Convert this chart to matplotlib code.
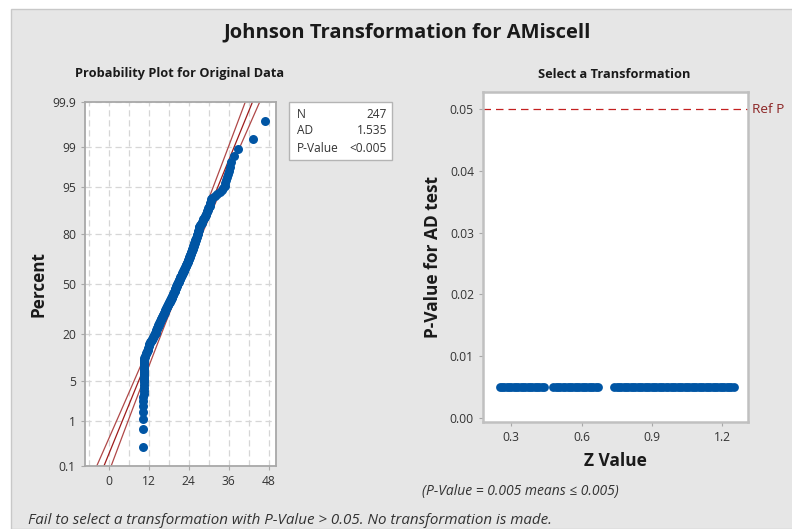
import statistics

import numpy as np
import matplotlib
matplotlib.use("Agg")
import matplotlib.pyplot as plt
from matplotlib.patches import Rectangle
from matplotlib.ticker import FixedLocator, FormatStrFormatter

plt.rcParams['font.family'] = ['Open Sans', 'DejaVu Sans']

# Original data (sorted)
amiscell = [
    10.3, 10.4,
    10.4, 10.4, 10.4, 10.4, 10.4, 10.5, 10.5, 10.5, 10.5, 10.5,
    10.5, 10.5, 10.5, 10.5, 10.5, 10.5, 10.6, 10.6, 10.6, 10.6, 10.6, 10.6, 10.6,
    10.7, 10.8, 10.9, 11.1, 11.2, 11.4, 11.6,
    11.7, 11.8, 11.9, 12.0, 12.1, 12.2, 12.4, 12.5, 12.6, 12.8,
    12.9, 13.1, 13.2, 13.4, 13.5, 13.7, 13.8, 14.0,
    14.1, 14.1, 14.2, 14.3, 14.4, 14.5, 14.6, 14.7, 14.8, 14.9, 15.0, 15.1, 15.2,
    15.3, 15.4, 15.5, 15.6, 15.7, 15.8, 15.9, 16.0, 16.1, 16.2, 16.3, 16.4, 16.5,
    16.6, 16.7, 16.8, 16.85, 16.9, 17.0,
    17.1, 17.2, 17.3, 17.4, 17.5, 17.6, 17.7, 17.8, 17.9, 18.0, 18.1, 18.2, 18.3,
    18.4, 18.5, 18.6, 18.7,
    18.8, 18.9, 19.0, 19.0, 19.1, 19.2, 19.3, 19.4, 19.4, 19.5,
    19.6, 19.7, 19.8, 19.8, 19.9, 20.0, 20.0, 20.1, 20.2, 20.3, 20.3, 20.4, 20.5,
    20.5, 20.6,
    20.7, 20.8, 20.9, 21.0, 21.0, 21.1, 21.2, 21.3, 21.4, 21.4, 21.5, 21.6,
    21.7, 21.8, 21.9, 22.0, 22.0, 22.1, 22.2, 22.3, 22.4, 22.5, 22.6, 22.7, 22.7,
    22.8, 22.9, 23.0, 23.1, 23.2, 23.3, 23.3, 23.4, 23.5, 23.6, 23.7, 23.7, 23.8,
    23.9, 24.0,
    24.1, 24.2, 24.2, 24.3, 24.4, 24.5, 24.5, 24.6, 24.7, 24.8, 24.8, 24.9, 25.0,
    25.1, 25.1, 25.2, 25.3, 25.4, 25.4, 25.5, 25.6, 25.7, 25.7, 25.8,
    25.9, 26.0, 26.0, 26.1, 26.2, 26.3, 26.4, 26.4, 26.5, 26.6, 26.7, 26.7, 26.8,
    26.9, 27.0, 27.0, 27.1, 27.2, 27.2, 27.3,
    27.5, 27.7, 27.9, 28.0, 28.2, 28.4, 28.6, 28.8, 29.0, 29.1, 29.3, 29.5,
    29.6, 29.8, 29.9, 30.1, 30.3,
    30.4, 30.5, 30.7, 30.8, 31.0,
    31.8, 32.6, 33.3, 34.0,
    34.4, 34.8, 35.0, 35.3, 35.5,
    35.8, 36.1, 36.5, 36.8,
    37.6, 38.7, 43.4, 46.9,
]

# Z values tried by the Johnson search, with the AD p-value of each
z_values = [
    0.25, 0.26, 0.27, 0.28, 0.29, 0.30, 0.31, 0.32, 0.33, 0.34,
    0.35, 0.36, 0.37, 0.38, 0.39, 0.40, 0.41, 0.42, 0.43, 0.44,
    0.48, 0.49, 0.50, 0.51, 0.52, 0.53, 0.54, 0.55, 0.56, 0.57,
    0.58, 0.59, 0.60, 0.61, 0.62, 0.63, 0.64, 0.65, 0.66, 0.67,
    0.74, 0.75, 0.76, 0.77, 0.78, 0.79, 0.80, 0.81, 0.82, 0.83,
    0.84, 0.85, 0.86, 0.87, 0.88, 0.89, 0.90, 0.91, 0.92, 0.93,
    0.94, 0.95, 0.96, 0.97, 0.98, 0.99, 1.00, 1.01, 1.02, 1.03,
    1.04, 1.05, 1.06, 1.07, 1.08, 1.09, 1.10, 1.11, 1.12, 1.13,
    1.14, 1.15, 1.16, 1.17, 1.18, 1.19, 1.20, 1.21, 1.22, 1.23,
    1.24, 1.25,
]
z_pvalues = [0.005] * len(z_values)  # every z gave P <= 0.005

stat_labels = ["N", "AD", "P-Value"]
stat_values = ["247", "1.535", "<0.005"]

pct_ticks = [0.1, 1, 5, 20, 50, 80, 95, 99, 99.9]
pct_labels = ["0.1", "1", "5", "20", "50", "80", "95", "99", "99.9"]
ref_p = 0.05

W, H = 792, 529
BLUE = "#0055A4"
RED = "#9E1B1B"
TEXT = "#1a1a1a"
TICK = "#333333"
SPINE = "#a8a8a8"


def fx(px):
    return px / W


def fy(py):
    return 1 - py / H


nd = statistics.NormalDist()
_inv = np.vectorize(nd.inv_cdf, otypes=[float])
_cdf = np.vectorize(nd.cdf, otypes=[float])


def pct_to_z(p):
    p = np.clip(np.asarray(p, dtype=float) / 100.0, 1e-9, 1 - 1e-9)
    return _inv(p)


def z_to_pct(z):
    return _cdf(np.asarray(z, dtype=float)) * 100.0


def style_axes(ax):
    for s in ax.spines.values():
        s.set_color(SPINE)
        s.set_linewidth(1.3)
    ax.tick_params(colors=SPINE, labelcolor=TICK, labelsize=8.7, length=3, width=0.8)


fig = plt.figure(figsize=(W / 100, H / 100), dpi=100, facecolor="white")
fig.patches.append(Rectangle((fx(11), 0), 1, fy(9), transform=fig.transFigure,
                             facecolor="#e6e6e6", edgecolor="#c8c8c8", lw=1, zorder=-10))

fig.text(fx(407), fy(32), "Johnson Transformation for AMiscell", ha="center", va="center",
         fontsize=14.5, fontweight="bold", color=TEXT)

# ---- Probability plot ----
ax1 = fig.add_axes([fx(85), fy(466), fx(276) - fx(85), fy(102) - fy(466)])
ax1.set_facecolor("white")
ax1.set_yscale("function", functions=(pct_to_z, z_to_pct))

data = np.array(amiscell)
n = len(data)
ranks = np.arange(1, n + 1)
pos = (ranks - 0.3) / (n + 0.4) * 100

mu = data.mean()
sd = data.std(ddof=1)
zz = np.linspace(-3.4, 3.4, 120)
fit = mu + zz * sd
half = 1.96 * sd / np.sqrt(n) * np.sqrt(1 + zz ** 2 / 2)
zp = z_to_pct(zz)
ax1.plot(fit, zp, color=RED, lw=0.9, zorder=2)
ax1.plot(fit - half, zp, color="#b04848", lw=0.9, zorder=2)
ax1.plot(fit + half, zp, color="#b04848", lw=0.9, zorder=2)

ax1.scatter(data, pos, s=42, color=BLUE, linewidths=0, zorder=3)

ax1.set_xlim(-7.1, 50.2)
ax1.set_ylim(0.1, 99.9)
ax1.set_xticks([0, 12, 24, 36, 48])
ax1.xaxis.set_minor_locator(FixedLocator([-6, 6, 18, 30, 42]))
ax1.tick_params(axis="x", which="minor", length=0)
ax1.yaxis.set_major_locator(FixedLocator(pct_ticks))
ax1.set_yticklabels(pct_labels)
ax1.yaxis.set_minor_locator(FixedLocator([]))
ax1.grid(True, which="both", color="#d6d6d6", ls=(0, (5, 3)), lw=0.9)
ax1.set_axisbelow(True)
style_axes(ax1)
ax1.set_ylabel("Percent", fontsize=12.3, fontweight="bold", color=TEXT)
ax1.yaxis.set_label_coords(-0.194, 0.5)

fig.text(fx(180), fy(74), "Probability Plot for Original Data", ha="center", va="center",
         fontsize=9.2, fontweight="bold", color=TEXT)

# stats box
fig.patches.append(Rectangle((fx(289), fy(160)), fx(392) - fx(289), fy(102) - fy(160),
                             transform=fig.transFigure, facecolor="white",
                             edgecolor="#b4b4b4", lw=1))
for i, (lab, val) in enumerate(zip(stat_labels, stat_values)):
    y = fy(114 + i * 17)
    fig.text(fx(297), y, lab, ha="left", va="center", fontsize=8.6, color=TICK)
    fig.text(fx(387), y, val, ha="right", va="center", fontsize=8.6, color=TICK)

# ---- Select a Transformation ----
ax2 = fig.add_axes([fx(483), fy(422), fx(748) - fx(483), fy(92) - fy(422)])
ax2.set_facecolor("white")
ax2.scatter(z_values, z_pvalues, s=40, color=BLUE, linewidths=0, zorder=3)
ax2.axhline(ref_p, color="#c42020", ls=(0, (6, 4)), lw=0.9, zorder=2)
ax2.text(1.015, ref_p, "Ref P", transform=ax2.get_yaxis_transform(), ha="left", va="center",
         fontsize=9.7, color="#8b2323")
ax2.set_xlim(0.179, 1.311)
ax2.set_ylim(-0.0007, 0.0528)
ax2.set_xticks([0.3, 0.6, 0.9, 1.2])
ax2.set_yticks([0.0, 0.01, 0.02, 0.03, 0.04, 0.05])
ax2.yaxis.set_major_formatter(FormatStrFormatter("%.2f"))
ax2.xaxis.set_major_formatter(FormatStrFormatter("%.1f"))
style_axes(ax2)
for s in ax2.spines.values():
    s.set_color("#c0c0c0")
    s.set_linewidth(1.8)
ax2.set_ylabel("P-Value for AD test", fontsize=12.5, fontweight="bold", color=TEXT)
ax2.yaxis.set_label_coords(-0.155, 0.5)
ax2.set_xlabel("Z Value", fontsize=12.5, fontweight="bold", color=TEXT)
ax2.xaxis.set_label_coords(0.498, -0.092)

fig.text(fx(614), fy(74), "Select a Transformation", ha="center", va="center",
         fontsize=9.2, fontweight="bold", color=TEXT)

fig.text(fx(422), fy(492), "(P-Value = 0.005 means \u2264 0.005)", ha="left", va="center",
         fontsize=10, style="italic", color="#333333")
fig.text(fx(28), fy(520), "Fail to select a transformation with P-Value > 0.05. "
         "No transformation is made.", ha="left", va="center",
         fontsize=10.9, style="italic", color="#333333")

fig.savefig("out.png", dpi=100, facecolor="white")
